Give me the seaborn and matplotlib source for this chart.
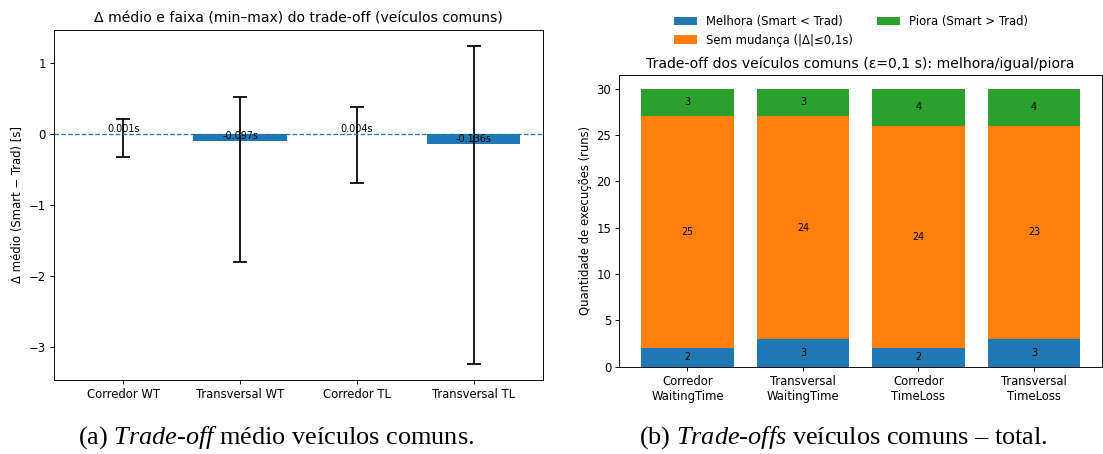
import numpy as np
import pandas as pd
import seaborn as sns
import matplotlib
matplotlib.use("Agg")
import matplotlib.pyplot as plt

# ---- data ----
left_cats = ["Corredor WT", "Transversal WT", "Corredor TL", "Transversal TL"]
delta_mean = [0.001, -0.097, 0.004, -0.136]
delta_min = [-0.32, -1.80, -0.69, -3.24]
delta_max = [0.22, 0.53, 0.38, 1.25]

right_cats = ["Corredor\nWaitingTime", "Transversal\nWaitingTime",
              "Corredor\nTimeLoss", "Transversal\nTimeLoss"]
melhora = [2, 3, 2, 3]
sem_mudanca = [25, 24, 24, 23]
piora = [3, 3, 4, 4]
legend_labels = ["Melhora (Smart < Trad)", "Sem mudança (|Δ|≤0,1s)", "Piora (Smart > Trad)"]

plt.rcParams["mathtext.fontset"] = "custom"
plt.rcParams["mathtext.rm"] = "Liberation Serif"
plt.rcParams["mathtext.it"] = "Liberation Serif:italic"

DPI = 84
fig = plt.figure(figsize=(1103 / DPI, 454 / DPI), dpi=DPI)
ax1 = fig.add_axes([0.0492, 0.163, 0.4428, 0.7716])
ax2 = fig.add_axes([0.5615, 0.1923, 0.4376, 0.6432])

# ---- left panel ----
sns.barplot(x=left_cats, y=delta_mean, color="#1f77b4", saturation=1, width=0.8,
            errorbar=None, linewidth=0, ax=ax1)
yerr = [np.subtract(delta_mean, delta_min), np.subtract(delta_max, delta_mean)]
ax1.errorbar(np.arange(len(left_cats)), delta_mean, yerr=yerr, fmt="none",
             ecolor="black", elinewidth=1.5, capsize=6, capthick=1.5, zorder=3)
ax1.axhline(0, color="#1f77b4", ls="--", lw=1.1, zorder=4)
for i, v in enumerate(delta_mean):
    ax1.text(i, v, f"{v:.3f}s", ha="center", va="bottom", fontsize=8.3, zorder=5)
ax1.autoscale(enable=True, axis="x")
ax1.set_ylabel("Δ médio (Smart − Trad) [s]")
ax1.set_title("Δ médio e faixa (min–max) do trade-off (veículos comuns)")

# ---- right panel ----
bottom_orange = np.array(melhora)
bottom_green = np.add(melhora, sem_mudanca)
sns.barplot(x=right_cats, y=melhora, color="#1f77b4", saturation=1, width=0.8,
            errorbar=None, linewidth=0, ax=ax2)
sns.barplot(x=right_cats, y=sem_mudanca, color="#ff7f0e", saturation=1, width=0.8,
            errorbar=None, linewidth=0, bottom=bottom_orange, ax=ax2)
sns.barplot(x=right_cats, y=piora, color="#2ca02c", saturation=1, width=0.8,
            errorbar=None, linewidth=0, bottom=bottom_green, ax=ax2)
for cont, vals in zip(ax2.containers, [melhora, sem_mudanca, piora]):
    ax2.bar_label(cont, labels=[str(v) for v in vals], label_type="center", fontsize=8.3)
ax2.autoscale(enable=True, axis="x")
ax2.set_ylabel("Quantidade de execuções (runs)")
ax2.set_title("Trade-off dos veículos comuns (ε=0,1 s): melhora/igual/piora")
ax2.legend(ax2.containers[:3], legend_labels, ncol=2, frameon=False,
           loc="lower center", bbox_to_anchor=(0.48, 1.06))

# ---- captions ----
fig.text(0.2507, 0.037, r"(a) $\mathit{Trade}$-$\mathit{off}$ médio veículos comuns.",
         ha="center", va="center", fontsize=22.5, family="Liberation Serif")
fig.text(0.765, 0.037, r"(b) $\mathit{Trade}$-$\mathit{offs}$ veículos comuns – total.",
         ha="center", va="center", fontsize=22.5, family="Liberation Serif")

fig.savefig("out.png", dpi=DPI)
